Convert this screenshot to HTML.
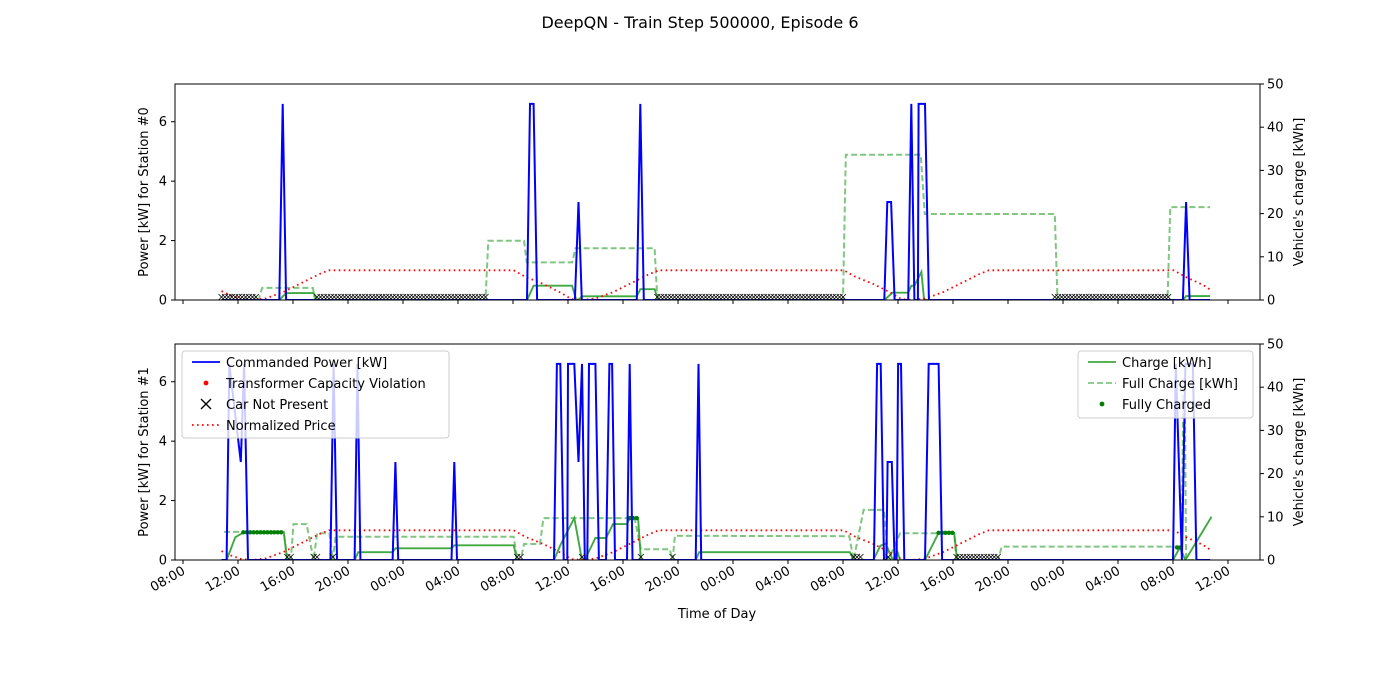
<!DOCTYPE html>
<html><head><meta charset="utf-8">
<style>
body{margin:0;background:#fff;}
svg{display:block;font-family:"DejaVu Sans","Liberation Sans",sans-serif;}
</style></head>
<body>
<svg id="chart" width="1400" height="700" viewBox="0 0 1400 700" xmlns="http://www.w3.org/2000/svg">
<rect width="1400" height="700" fill="#fff"/>
<text x="700" y="28" font-size="16" text-anchor="middle">DeepQN - Train Step 500000, Episode 6</text>
<g id="plots"></g>
</svg>
<script>
// ---- data (time in hours from day-0 08:00) ----
const xTickLabels=["08:00","12:00","16:00","20:00","00:00","04:00","08:00","12:00","16:00","20:00","00:00","04:00","08:00","12:00","16:00","20:00","00:00","04:00","08:00","12:00"];
const leftTicks=[0,2,4,6];
const rightTicks=[0,10,20,30,40,50];
const priceT=[2.8,3.5,4.25,5,6,7.3,8.6,9.9,10.6,24.05,24.9,26.2,27.5,28.25,29,30,31.3,32.6,33.9,34.6,48.05,48.9,50.2,51.5,52.25,53,54,55.3,56.6,57.9,58.6,72.05,72.9,74.2,74.7];
const priceV=[0.3,0.15,0.03,0,0.05,0.27,0.57,0.87,1,1,0.78,0.54,0.24,0.03,0,0.05,0.27,0.57,0.87,1,1,0.78,0.54,0.24,0.03,0,0.05,0.27,0.57,0.87,1,1,0.78,0.5,0.35];
// station 0
const power0T=[2.8,7.0,7.25,7.5,25.02,25.24,25.5,25.75,28.5,28.76,29.0,33.0,33.26,33.51,51.0,51.22,51.5,51.75,52.74,52.97,53.19,53.45,53.5,53.96,54.25,72.72,72.95,73.21,74.7];
const power0V=[0,0,6.6,0,0,6.6,6.6,0,0,3.3,0,0,6.6,0,0,3.3,3.3,0,0,6.6,0,0,6.6,6.6,0,0,3.3,0,0];
const charge0T=[2.8,7.0,7.5,9.5,9.75,25.02,25.5,28.3,28.6,28.76,29.0,33.0,33.26,34.3,34.55,51.0,51.6,52.74,52.97,53.19,53.7,53.9,72.72,72.95,74.7];
const charge0V=[0,0,1.6,1.6,0,0,3.3,3.3,0,0,0.85,0.85,2.5,2.5,0,0,1.7,1.7,3.3,3.3,6.5,0,0,0.9,0.9];
const full0T=[2.8,5.5,5.75,9.45,9.6,22.0,22.2,24.8,25.0,28.3,28.55,34.3,34.5,48.0,48.2,53.65,53.95,63.4,63.6,71.6,71.8,74.7];
const full0V=[0,0,2.8,2.8,0,0,13.7,13.7,8.7,8.7,12,12,0,0,33.6,33.6,19.9,19.9,0,0,21.5,21.5];
const absent0=[[2.8,5.5],[9.75,22.0],[34.5,48.0],[63.4,71.7]];
const full0Dots=[];
// station 1
const power1T=[2.8,3.17,3.37,4.2,4.44,4.73,10.72,10.95,11.2,12.48,12.69,12.9,15.24,15.45,15.65,19.53,19.73,19.93,26.98,27.19,27.44,27.69,27.95,28.0,28.46,28.76,29.02,29.22,29.4,29.53,29.99,30.25,30.76,31.01,31.21,31.42,32.29,32.49,32.69,37.29,37.49,37.69,50.25,50.48,50.74,50.98,51.16,51.24,51.55,51.75,51.9,52.01,52.22,52.46,53.96,54.23,54.95,55.21,72.0,72.2,72.65,72.9,73.45,73.7,74.7];
const power1V=[0,0,6.6,3.3,6.6,0,0,6.6,0,0,6.6,0,0,3.3,0,0,3.3,0,0,6.6,6.6,0,0,6.6,6.6,3.3,6.6,0,0,6.6,6.6,0,0,6.6,6.6,0,0,6.6,0,0,6.6,0,0,6.6,6.6,0,0,3.3,3.3,0,0,6.6,6.6,0,0,6.6,6.6,0,0,6.6,0,6.6,6.6,0,0];
const charge1T=[2.8,3.17,3.8,4.39,7.33,7.58,12.48,12.74,15.24,15.45,19.53,19.73,24.05,24.3,26.98,27.44,28.46,29.02,29.22,29.99,30.76,31.27,32.29,32.49,33.1,33.3,37.29,37.54,48.5,48.77,50.2,50.72,51.1,51.63,51.96,52.15,53.96,54.95,56.09,56.3,72.0,72.5,72.9,74.8];
const charge1V=[0,0,5.25,6.4,6.4,0,0,1.8,1.8,2.7,2.7,3.4,3.4,0,0,3.4,9.7,0,0,5.1,5.1,8.3,8.3,9.7,9.7,0,0,1.8,1.8,0,0,3.3,3.8,0,1.8,0,0,6.3,6.3,0,0,2.9,0,10];
const full1T=[2.98,7.33,7.58,7.84,8.04,8.99,9.5,9.75,10.65,10.9,11.1,24.05,24.3,24.55,24.8,25.96,26.21,32.84,33.3,35.4,35.6,35.78,48.46,48.77,49.5,50.98,51.3,52.15,56.09,56.25,59.27,59.55,72.65,72.75,72.85,72.95,74.7];
const full1V=[6.5,6.5,0,0,8.3,8.3,0,6.2,6.2,0,5.4,5.4,0,0,3.7,3.7,9.7,9.7,2.5,2.5,0,5.6,5.5,0,11.6,11.6,0,6.2,6.2,0,0,3.1,3.1,42,42,0,0];
const absent1=[[7.58,7.84],[9.5,9.75],[10.9,11.1],[24.3,24.55],[29.02,29.02],[33.3,33.3],[35.6,35.6],[48.77,49.5],[51.3,51.3],[56.25,59.27]];
const full1Dots=[[4.39,7.33,6.4],[32.49,33.1,9.7],[54.95,56.09,6.3],[72.3,72.55,2.9]];

// ---- layout ----
const NS="http://www.w3.org/2000/svg";
const XL=175,XR=1260;
function X(t){return 183+13.75*t;}
function el(tag,attrs,parent){const e=document.createElementNS(NS,tag);for(const k in attrs)e.setAttribute(k,attrs[k]);parent.appendChild(e);return e;}
const root=document.getElementById('plots');

function poly(Ts,Vs,Y,attrs,parent,name){
  const pts=Ts.map((t,i)=>X(t).toFixed(1)+","+Y(Vs[i]).toFixed(1)).join(" ");
  const p=el('polyline',Object.assign({points:pts,fill:'none'},attrs),parent);
  
  
  return p;
}
function xMark(x,y,s,parent,w){
  const g=el('path',{d:`M${x-s},${y-s}L${x+s},${y+s}M${x-s},${y+s}L${x+s},${y-s}`,stroke:'#000','stroke-width':w||0.8,fill:'none'},parent);
  
  
}

function panel(top,idx,d){
  const bot=top+216;
  const YL=v=>bot-v*216/7.27;
  const YR=v=>bot-v*216/50;
  const g=el('g',{},root);
  
  
  const clipId='clip'+idx;
  const cp=el('clipPath',{id:clipId},g);el('rect',{x:XL,y:top,width:XR-XL,height:216},cp);
  const plot=el('g',{'clip-path':`url(#${clipId})`},g);
  poly(d.fullT,d.fullV,YR,{stroke:'#2ca02c','stroke-opacity':0.6,'stroke-width':2,'stroke-dasharray':'6,3'},plot,'full-charge-line');
  poly(d.chT,d.chV,YR,{stroke:'#2ca02c','stroke-opacity':0.9,'stroke-width':1.9},plot,'charge-line');
  d.dots.forEach(iv=>{for(let t=iv[0];t<=iv[1]+1e-6;t+=0.25){
    const c=el('circle',{cx:X(t),cy:YR(iv[2]),r:2.2,fill:'green'},plot);
    
    
  }});
  poly(priceT,priceV,YL,{stroke:'red','stroke-width':1.8,'stroke-dasharray':'1.6,3.4'},plot,'normalized-price-line');
  poly(d.pT,d.pV,YL,{stroke:'blue','stroke-width':2},plot,'commanded-power-line');
  d.absent.forEach(iv=>{for(let t=iv[0];t<=iv[1]+1e-6;t+=0.25){xMark(X(t),bot-3,3,plot);}});
  const fr=el('rect',{x:XL,y:top,width:XR-XL,height:216,fill:'none',stroke:'#000','stroke-width':1},g);
  
  
  xTickLabels.forEach((lab,i)=>{
    const x=X(i*4);
    el('line',{x1:x,y1:bot,x2:x,y2:bot+4,stroke:'#000'},g);
    if(idx===1){
      const tx=el('text',{x:x,y:bot+14,'font-size':13,'text-anchor':'end',transform:`rotate(-30 ${x} ${bot+8})`},g);
      tx.textContent=lab;
      
      
    }
  });
  leftTicks.forEach(v=>{
    const y=YL(v);
    el('line',{x1:XL-4,y1:y,x2:XL,y2:y,stroke:'#000'},g);
    const tx=el('text',{x:XL-8,y:y+4.5,'font-size':13,'text-anchor':'end'},g);
    tx.textContent=v;
    
    
  });
  rightTicks.forEach(v=>{
    const y=YR(v);
    el('line',{x1:XR,y1:y,x2:XR+4,y2:y,stroke:'#000'},g);
    const tx=el('text',{x:XR+7,y:y+4.5,'font-size':13,'text-anchor':'start'},g);
    tx.textContent=v;
    
    
  });
  const cy=top+108;
  const yl=el('text',{x:148,y:cy,'font-size':13,'text-anchor':'middle',transform:`rotate(-90 148 ${cy})`},g);
  yl.textContent='Power [kW] for Station #'+idx;
  
  
  const yr=el('text',{x:1303,y:cy,'font-size':13,'text-anchor':'middle',transform:`rotate(-90 1303 ${cy})`},g);
  yr.textContent="Vehicle's charge [kWh]";
  
  
  return g;
}
panel(84,0,{pT:power0T,pV:power0V,chT:charge0T,chV:charge0V,fullT:full0T,fullV:full0V,absent:absent0,dots:full0Dots});
panel(344,1,{pT:power1T,pV:power1V,chT:charge1T,chV:charge1V,fullT:full1T,fullV:full1V,absent:absent1,dots:full1Dots});
const xt=el('text',{x:717,y:618,'font-size':13,'text-anchor':'middle'},root);
xt.textContent='Time of Day';



function legend(x,y,w,h,items,name){
  const g=el('g',{},root);
  
  
  el('rect',{x:x,y:y,width:w,height:h,rx:3,fill:'#fff','fill-opacity':0.8,stroke:'#ccc'},g);
  items.forEach((it,i)=>{
    const cy=y+11+i*21;
    const sx=x+10;
    if(it.kind==='line') el('line',{x1:sx,y1:cy,x2:sx+28,y2:cy,stroke:it.c,'stroke-width':1.8,'stroke-opacity':it.o||1,'stroke-dasharray':it.dash||'none'},g);
    if(it.kind==='dot') el('circle',{cx:sx+14,cy:cy,r:2.4,fill:it.c},g);
    if(it.kind==='x'){const s=5;el('path',{d:`M${sx+14-s},${cy-s}L${sx+14+s},${cy+s}M${sx+14-s},${cy+s}L${sx+14+s},${cy-s}`,stroke:'#000','stroke-width':1.3},g);}
    const t=el('text',{x:x+44,y:cy+5,'font-size':13},g);
    t.textContent=it.label;
    
    
  });
}
legend(182,351,267,87,[
  {kind:'line',c:'blue',label:'Commanded Power [kW]'},
  {kind:'dot',c:'red',label:'Transformer Capacity Violation'},
  {kind:'x',label:'Car Not Present'},
  {kind:'line',c:'red',dash:'1.6,3.4',label:'Normalized Price'}],'legend-left');
legend(1078,351,175,67,[
  {kind:'line',c:'#2ca02c',o:0.9,label:'Charge [kWh]'},
  {kind:'line',c:'#2ca02c',o:0.6,dash:'6,3',label:'Full Charge [kWh]'},
  {kind:'dot',c:'green',label:'Fully Charged'}],'legend-right');
</script>
</body></html>
